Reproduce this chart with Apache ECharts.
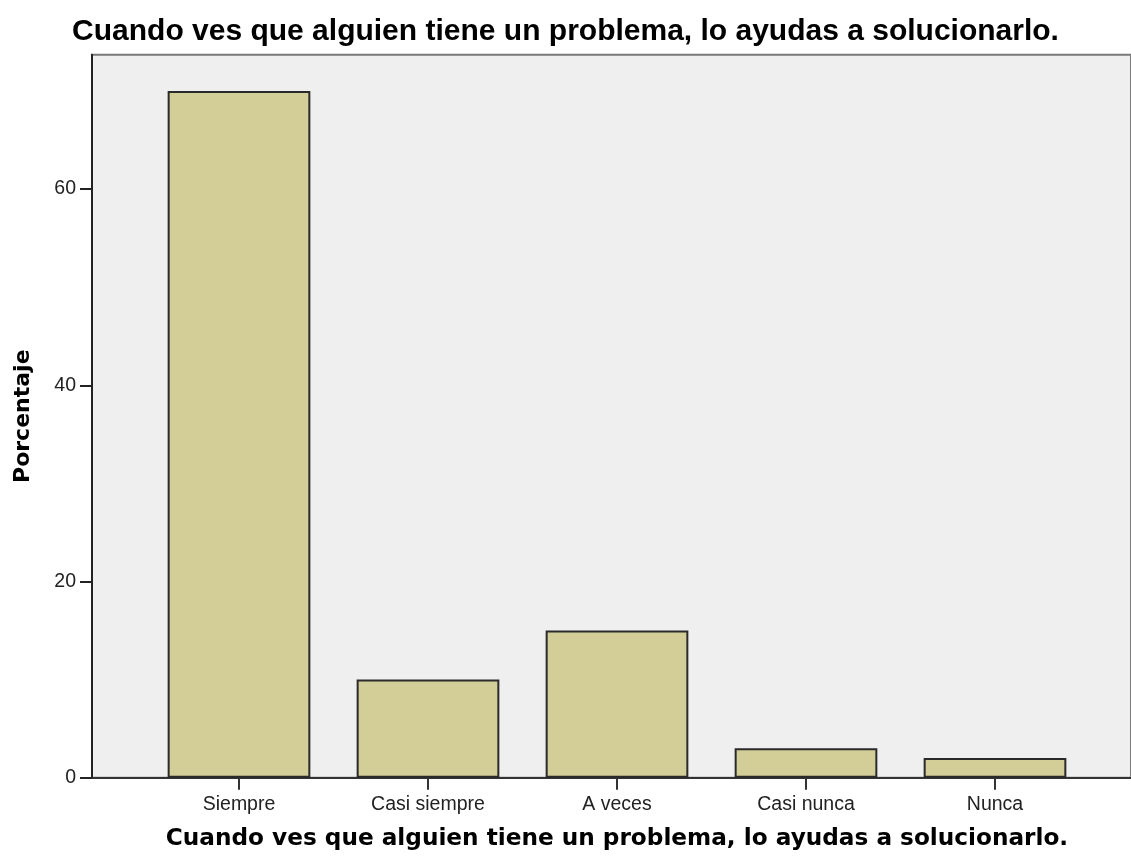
<!DOCTYPE html>
<html>
<head>
<meta charset="utf-8">
<script src="https://cdn.jsdelivr.net/npm/echarts@6/dist/echarts.min.js"></script>
<style>
  html, body { margin: 0; padding: 0; background: #fff; }
  #main { width: 1131px; height: 857px; }
</style>
</head>
<body>
<div id="main"></div>
<script>
// datos
var categorias = ["Siempre", "Casi siempre", "A veces", "Casi nunca", "Nunca"];
var porcentajes = [70, 10, 15, 3, 2];
var tituloTexto = "Cuando ves que alguien tiene un problema, lo ayudas a solucionarlo.";
var yMax = 73.7;

var chart = echarts.init(document.getElementById("main"));

var option = {
  backgroundColor: "#ffffff",
  animation: false,
  title: {
    text: tituloTexto,
    left: "center",
    top: 12,
    textStyle: {
      fontFamily: "Liberation Sans",
      fontWeight: "bold",
      fontSize: 30,
      color: "#000",
    },
  },
  grid: [
    {
      // marco con fondo gris
      left: 92,
      top: 54.7,
      right: -3,
      height: 723,
      show: true,
      backgroundColor: "#efefef",
      borderColor: "#7a7a7a",
      borderWidth: 2,
    },
    {
      // zona de las barras
      left: 144.5,
      top: 54.7,
      width: 945,
      height: 723,
    },
  ],
  xAxis: [
    {
      gridIndex: 0,
      type: "value",
      min: 0,
      max: 1,
      axisLine: { show: true, lineStyle: { color: "#333", width: 2 } },
      axisTick: { show: false },
      axisLabel: { show: false },
      splitLine: { show: false },
    },
    {
      gridIndex: 1,
      type: "category",
      data: categorias,
      axisLine: { show: false },
      axisTick: {
        show: true,
        alignWithLabel: true,
        length: 12,
        lineStyle: { color: "#333", width: 2 },
      },
      axisLabel: {
        margin: 17,
        fontFamily: "Liberation Sans",
        fontSize: 19.5,
        color: "#222",
      },
      name: tituloTexto,
      nameLocation: "middle",
      nameGap: 50,
      nameTextStyle: {
        fontFamily: "DejaVu Sans",
        fontWeight: "bold",
        fontSize: 23.2,
        color: "#000",
        verticalAlign: "top",
      },
    },
  ],
  yAxis: [
    {
      gridIndex: 0,
      type: "value",
      min: 0,
      max: yMax,
      interval: 20,
      axisLine: { show: true, lineStyle: { color: "#222", width: 2 } },
      axisTick: { show: true, length: 12, lineStyle: { color: "#222", width: 2 } },
      axisLabel: {
        margin: 16,
        fontFamily: "Liberation Sans",
        fontSize: 19.5,
        color: "#222",
        showMaxLabel: false,
      },
      splitLine: { show: false },
      name: "Porcentaje",
      nameLocation: "middle",
      nameGap: 58,
      nameTextStyle: {
        fontFamily: "DejaVu Sans",
        fontWeight: "bold",
        fontSize: 22,
        color: "#000",
      },
    },
    {
      gridIndex: 1,
      type: "value",
      min: 0,
      max: yMax,
      show: false,
      splitLine: { show: false },
    },
  ],
  series: [
    {
      type: "bar",
      xAxisIndex: 1,
      yAxisIndex: 1,
      data: porcentajes,
      barWidth: "75.5%",
      itemStyle: {
        color: "#d3ce97",
        borderColor: "#2a2a2a",
        borderWidth: 2,
      },
      z: 3,
    },
  ],
};

chart.setOption(option);
</script>
</body>
</html>
